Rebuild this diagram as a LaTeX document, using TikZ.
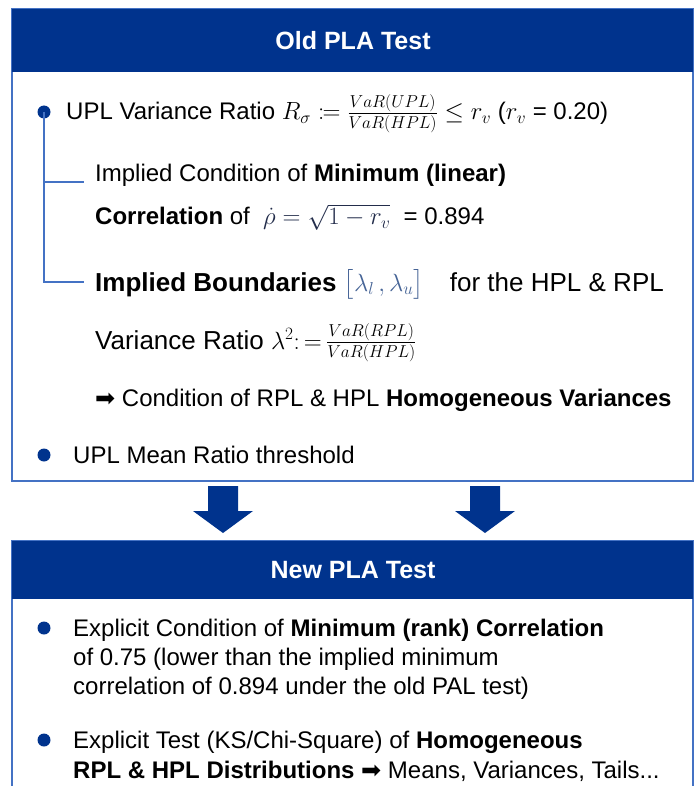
\documentclass[tikz,border=0pt]{standalone}
\usepackage{amsmath,mathtools}
\usepackage{fontspec}
\setmainfont{Liberation Sans}
\newfontfamily\dejavu{DejaVu Sans}
\definecolor{kblue}{RGB}{0,51,141}
\definecolor{lblue}{RGB}{68,114,196}
\definecolor{mblue}{RGB}{70,100,150}
\definecolor{fblue}{RGB}{35,45,75}
\newcommand{\heavyarrow}{{\dejavu\fontsize{24}{24}\selectfont ➡}}
\begin{document}
\begin{tikzpicture}[x=1pt,y=-1pt,
  body/.style={anchor=base west, inner sep=0pt, font=\fontsize{24}{28}\selectfont},
  big/.style={anchor=base west, inner sep=0pt, font=\fontsize{26}{30}\selectfont},
  hdr/.style={anchor=base, inner sep=0pt, text=white, font=\fontsize{25}{28}\selectfont\bfseries},
  dot/.style={circle, fill=kblue, inner sep=0pt, minimum size=13pt},
  tree/.style={draw=lblue, line width=1.2pt},
  frame/.style={draw=lblue, line width=1.4pt, inner sep=0pt, outer sep=0pt, anchor=north west},
  band/.style={fill=kblue},
  blockarrow/.style={fill=kblue}]
\useasboundingbox (0,0) rectangle (696,786);

% ---------- old box ----------
\node[frame, minimum width=681pt, minimum height=472pt] (oldbox) at (12,9) {};
\fill[band] (oldbox.north west) rectangle ([yshift=-63pt]oldbox.north east);
\node[hdr] (oldtitle) at (353,50) {Old PLA Test};

\node[dot] (dot1) at (44,112) {};
\node[body] (b1) at (66,120) {UPL Variance Ratio $R_\sigma \coloneqq \frac{VaR(UPL)}{VaR(HPL)} \le r_v$ ($r_v$ = 0.20)};

\coordinate (t1) at (84,182);
\coordinate (t2) at (84,282);
\draw[tree] (dot1.center) |- (t2);
\draw[tree] (dot1.center |- t1) -- (t1);

\node[body] (c1) at (95,182) {Implied Condition of \textbf{Minimum (linear)}};
\node[body] (c2) at (95,225) {\textbf{Correlation} of\ \ {\color{fblue}$\dot\rho = \sqrt{1-r_v}$}\ \ = 0.894};
\node[big] (c3) at (95,291) {\textbf{Implied Boundaries} {\color{mblue}$\bigl[\lambda_l\,,\lambda_u\bigr]$}\quad for the HPL \& RPL};
\node[big] (c4) at (95,349) {Variance Ratio $\lambda^2{:}\,{=}\,\frac{VaR(RPL)}{VaR(HPL)}$};
\node[body] (c5) at (95,406) {\heavyarrow\ Condition of RPL \& HPL \textbf{Homogeneous Variances}};

\node[dot] (dot2) at (44,455) {};
\node[body] (b2) at (73,463) {UPL Mean Ratio threshold};

% ---------- arrows ----------
\fill[blockarrow] (208,486) -- (238,486) -- (238,511) -- (253,511) -- (223,533) -- (193,511) -- (208,511) -- cycle;
\fill[blockarrow] (470,486) -- (500,486) -- (500,511) -- (515,511) -- (485,533) -- (455,511) -- (470,511) -- cycle;

% ---------- new box ----------
\node[frame, minimum width=681pt, minimum height=262pt] (newbox) at (12,541) {};
\fill[band] (newbox.north west) rectangle ([yshift=-58pt]newbox.north east);
\node[hdr] (newtitle) at (353,578) {New PLA Test};

\node[dot] (dot3) at (44,628) {};
\node[body] (n1a) at (73,636) {Explicit Condition of \textbf{Minimum (rank) Correlation}};
\node[body] (n1b) at (73,665) {of 0.75 (lower than the implied minimum};
\node[body] (n1c) at (73,694) {correlation of 0.894 under the old PAL test)};

\node[dot] (dot4) at (44,740) {};
\node[body] (n2a) at (73,748) {Explicit Test (KS/Chi-Square) of \textbf{Homogeneous}};
\node[body] (n2b) at (73,778) {\textbf{RPL \& HPL Distributions} \heavyarrow\ Means, Variances, Tails...};
\end{tikzpicture}
\end{document}
